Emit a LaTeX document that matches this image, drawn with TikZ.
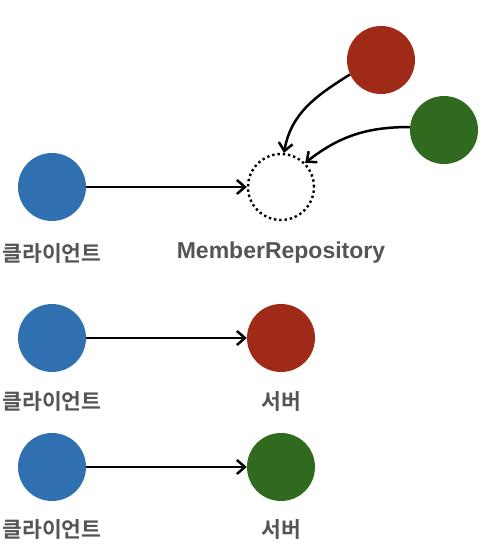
\documentclass[tikz,border=0pt]{standalone}
\usepackage{fontspec}
\usepackage{tikz}
\usetikzlibrary{arrows.meta, positioning}
\newfontfamily\kofont{Noto Sans CJK KR}[BoldFont={* Bold}]
\newfontfamily\latfont{Liberation Sans}
\definecolor{cliblue}{RGB}{48,112,176}
\definecolor{srvred}{RGB}{160,42,24}
\definecolor{srvgreen}{RGB}{48,106,30}
\definecolor{lblgray}{RGB}{85,85,85}
\tikzset{
  %% ---- circles ----
  dot/.style     = {circle, draw=none, fill=#1, minimum size=68pt, inner sep=0pt},
  dot/.default   = cliblue,
  ghost/.style   = {circle, draw=black, line width=2.4pt,
                    dash pattern=on 2.4pt off 2.9pt,
                    minimum size=66pt, inner sep=0pt},
  %% ---- labels ----
  kolbl/.style   = {font=\kofont\bfseries\fontsize{21.5}{25}\selectfont,
                    text=lblgray, inner sep=0pt, anchor=base},
  latlbl/.style  = {font=\latfont\bfseries\fontsize{23}{27}\selectfont,
                    text=lblgray, inner sep=0pt, anchor=base},
  %% ---- arrows ----
  arrow/.style   = {-{Straight Barb[length=8pt, width=14pt]}, line width=2.5pt, color=black},
}
\begin{document}
\begin{tikzpicture}[x=1pt, y=1pt]
  \useasboundingbox (0,0) rectangle (498,550);

  %% interface picture
  \node[dot] (c1) at (52,363) {};
  \node[ghost] (repo) at (281,363) {};
  \node[dot=srvred] (r1) at (381,490) {};
  \node[dot=srvgreen] (g1) at (444,420) {};
  \node[kolbl, below=40pt of c1, anchor=base] (lc1) {클라이언트};
  \node[latlbl, below=37pt of repo, anchor=base] (lrepo) {MemberRepository};

  \draw[arrow] (c1) -- (repo);
  \draw[arrow] (r1.205) to[out=212, in=80] (repo.85);
  \draw[arrow] (g1.175) to[out=180, in=38] (repo.45);

  %% concrete pairs
  \node[dot] (c2) at (52,212) {};
  \node[dot=srvred] (s2) at (281,212) {};
  \node[kolbl, below=37pt of c2, anchor=base] (lc2) {클라이언트};
  \node[kolbl, below=37pt of s2, anchor=base] (ls2) {서버};

  \node[dot] (c3) at (52,83) {};
  \node[dot=srvgreen] (s3) at (281,83) {};
  \node[kolbl, below=36pt of c3, anchor=base] (lc3) {클라이언트};
  \node[kolbl, below=36pt of s3, anchor=base] (ls3) {서버};

  \foreach \a/\b in {c2/s2, c3/s3}
    \draw[arrow] (\a) -- (\b);

\end{tikzpicture}
\end{document}
